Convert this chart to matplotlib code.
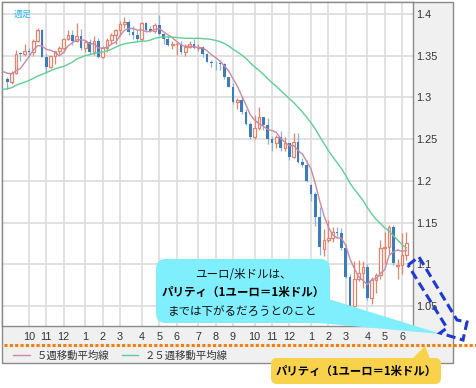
import matplotlib
matplotlib.use('Agg')
import matplotlib.pyplot as plt
import numpy as np
import pandas as pd
from matplotlib.patches import Rectangle, FancyBboxPatch, Polygon

# ---------------- data (weekly EUR/USD candles, Sep 2013 - Jun 2015) ----------------
opens = [1.3220, 1.3180, 1.3290, 1.3525, 1.3520, 1.3560, 1.3545, 1.3680, 1.3805, 1.3485,
         1.3365, 1.3495, 1.3555, 1.3590, 1.3705, 1.3745, 1.3675, 1.3740, 1.3590, 1.3665,
         1.3540, 1.3680, 1.3485, 1.3595, 1.3690, 1.3745, 1.3805, 1.3875, 1.3910, 1.3790,
         1.3750, 1.3705, 1.3890, 1.3815, 1.3800, 1.3870, 1.3760, 1.3695, 1.3630, 1.3635,
         1.3640, 1.3545, 1.3605, 1.3645, 1.3595, 1.3605, 1.3525, 1.3430, 1.3415, 1.3410,
         1.3400, 1.3240, 1.3130, 1.2950, 1.2965, 1.2830, 1.2685, 1.2525, 1.2630, 1.2760,
         1.2670, 1.2500, 1.2450, 1.2525, 1.2390, 1.2450, 1.2290, 1.2460, 1.2225, 1.2185,
         1.1950, 1.1840, 1.1565, 1.1180, 1.1290, 1.1315, 1.1385, 1.1380, 1.1195, 1.0845,
         1.0495, 1.0820, 1.0890, 1.0970, 1.0600, 1.0805, 1.0870, 1.1200, 1.1205, 1.1450,
         1.0975, 1.0990, 1.1110]
highs = [1.3240, 1.3315, 1.3570, 1.3545, 1.3645, 1.3590, 1.3705, 1.3832, 1.3815, 1.3525,
         1.3500, 1.3555, 1.3620, 1.3710, 1.3810, 1.3810, 1.3893, 1.3815, 1.3685, 1.3700,
         1.3740, 1.3710, 1.3620, 1.3715, 1.3775, 1.3825, 1.3915, 1.3967, 1.3925, 1.3855,
         1.3810, 1.3905, 1.3905, 1.3860, 1.3890, 1.3993, 1.3775, 1.3735, 1.3675, 1.3670,
         1.3675, 1.3645, 1.3680, 1.3700, 1.3640, 1.3620, 1.3535, 1.3445, 1.3435, 1.3445,
         1.3410, 1.3245, 1.3175, 1.2995, 1.3000, 1.2860, 1.2705, 1.2790, 1.2887, 1.2765,
         1.2750, 1.2535, 1.2545, 1.2600, 1.2530, 1.2455, 1.2570, 1.2570, 1.2270, 1.2250,
         1.1960, 1.1870, 1.1680, 1.1425, 1.1535, 1.1450, 1.1450, 1.1430, 1.1245, 1.0885,
         1.1043, 1.1050, 1.1035, 1.1000, 1.0850, 1.0895, 1.1290, 1.1390, 1.1467, 1.1465,
         1.1060, 1.1380, 1.1385]
lows = [1.3105, 1.3160, 1.3285, 1.3440, 1.3495, 1.3485, 1.3500, 1.3660, 1.3480, 1.3295,
        1.3355, 1.3400, 1.3520, 1.3545, 1.3690, 1.3625, 1.3660, 1.3570, 1.3540, 1.3520,
        1.3510, 1.3475, 1.3475, 1.3550, 1.3640, 1.3645, 1.3735, 1.3830, 1.3750, 1.3705,
        1.3670, 1.3675, 1.3790, 1.3780, 1.3775, 1.3750, 1.3645, 1.3615, 1.3585, 1.3503,
        1.3525, 1.3500, 1.3590, 1.3575, 1.3560, 1.3490, 1.3420, 1.3365, 1.3333, 1.3325,
        1.3225, 1.3120, 1.2920, 1.2860, 1.2800, 1.2670, 1.2500, 1.2500, 1.2615, 1.2615,
        1.2440, 1.2358, 1.2395, 1.2355, 1.2360, 1.2245, 1.2275, 1.2215, 1.2165, 1.1990,
        1.1755, 1.1460, 1.1115, 1.1098, 1.1270, 1.1270, 1.1315, 1.1175, 1.0840, 1.0490,
        1.0462, 1.0800, 1.0710, 1.0565, 1.0520, 1.0660, 1.0820, 1.1000, 1.1125, 1.0990,
        1.0820, 1.0885, 1.1050]
closes = [1.3180, 1.3290, 1.3525, 1.3520, 1.3560, 1.3545, 1.3680, 1.3805, 1.3485, 1.3365,
          1.3495, 1.3555, 1.3590, 1.3705, 1.3745, 1.3675, 1.3740, 1.3590, 1.3665, 1.3540,
          1.3680, 1.3485, 1.3595, 1.3690, 1.3745, 1.3805, 1.3875, 1.3910, 1.3790, 1.3750,
          1.3705, 1.3890, 1.3810, 1.3800, 1.3870, 1.3760, 1.3695, 1.3630, 1.3635, 1.3640,
          1.3545, 1.3605, 1.3645, 1.3595, 1.3605, 1.3525, 1.3430, 1.3415, 1.3410, 1.3400,
          1.3240, 1.3130, 1.2950, 1.2965, 1.2830, 1.2685, 1.2525, 1.2630, 1.2760, 1.2670,
          1.2500, 1.2450, 1.2525, 1.2390, 1.2450, 1.2290, 1.2460, 1.2225, 1.2185, 1.2000,
          1.1840, 1.1565, 1.1205, 1.1290, 1.1315, 1.1385, 1.1380, 1.1195, 1.0845, 1.0495,
          1.0820, 1.0890, 1.0970, 1.0600, 1.0805, 1.0870, 1.1200, 1.1205, 1.1450, 1.1015,
          1.0990, 1.1110, 1.1260]
# weekly closes before the first visible candle (feed the moving averages)
prior_closes = [1.3010, 1.2990, 1.2820, 1.2995, 1.3110, 1.3050, 1.3030, 1.3110, 1.2990, 1.2835,
                1.2930, 1.2995, 1.3220, 1.3345, 1.3120, 1.3010, 1.2830, 1.3065, 1.3145, 1.3275,
                1.3275, 1.3340, 1.3335, 1.3380, 1.3220]
# first week of each month (index into the candles) and its label
month_idx = [5, 9, 13, 18, 22, 26, 31, 35, 39, 44, 48, 52, 57, 61, 65, 70, 74, 78, 83, 87, 91]
month_labels = ['10', '11', '12', '1', '2', '3', '4', '5', '6', '7', '8', '9',
                '10', '11', '12', '1', '2', '3', '4', '5', '6']
ytick_vals = [1.05, 1.1, 1.15, 1.2, 1.25, 1.3, 1.35, 1.4]
ytick_labels = ['1.05', '1.1', '1.15', '1.2', '1.25', '1.3', '1.35', '1.4']
legend_labels = ['５週移動平均線', '２５週移動平均線']
period_label = '週足'
callout_lines = ['ユーロ/米ドルは、', 'パリティ（1ユーロ＝1米ドル）', 'までは下がるだろうとのこと']
parity_label = 'パリティ（1ユーロ＝1米ドル）'

# ---------------- figure ----------------
W, H = 476, 388
CJK = ['Noto Sans CJK JP', 'DejaVu Sans']
fig = plt.figure(figsize=(W / 100, H / 100), dpi=100)
fig.patch.set_facecolor('white')

bg = fig.add_axes([0, 0, 1, 1], zorder=0)
bg.set_xlim(0, W); bg.set_ylim(H, 0); bg.axis('off')
bg.add_patch(Rectangle((2, 2), 451, 361, fc='#f0f0f0', ec='#8a8a8a', lw=1.0))

ax = fig.add_axes([2 / W, 1 - 326 / H, 411 / W, 324 / H], zorder=1)
ax.set_facecolor('white')
ax.set_xlim(-1.22, 93.5)
ax.set_ylim(1.0259, 1.4144)
for s in ax.spines.values():
    s.set_color('#8a8a8a'); s.set_linewidth(1.0)

ax.set_xticks(month_idx)
ax.set_xticklabels(month_labels, family='Liberation Sans', fontsize=7.8, color='#333333')
ax.set_yticks(ytick_vals)
ax.set_yticklabels(ytick_labels, family='Liberation Sans', fontsize=7.8, color='#333333')
ax.yaxis.tick_right()
ax.tick_params(axis='x', length=0, pad=4.5)
ax.tick_params(axis='y', length=0, pad=2)
ax.grid(True, color='#dedede', lw=1.3)
ax.set_axisbelow(True)

o = np.array(opens); h = np.array(highs); l = np.array(lows); c = np.array(closes)
idx = np.arange(len(c))
up = c >= o
dn = ~up
up_col = '#e8826a'
dn_col = '#3b7cbd'
dn_wick = '#86b5e0'
body_w = 0.62
ax.vlines(idx[up], l[up], h[up], color=up_col, lw=0.9, zorder=3)
ax.vlines(idx[dn], l[dn], h[dn], color=dn_wick, lw=0.9, zorder=3)
hb = np.maximum(c[up] - o[up], 0.0008)
ax.bar(idx[up], hb, bottom=o[up], width=body_w, facecolor='white', edgecolor=up_col, lw=0.9, zorder=4)
ax.bar(idx[dn], np.maximum(o[dn] - c[dn], 0.0008), bottom=c[dn], width=body_w,
       facecolor=dn_col, edgecolor='none', zorder=4)

allc = pd.Series(prior_closes + closes)
ma5 = allc.rolling(5).mean().to_numpy()
ma25 = allc.rolling(25).mean().to_numpy()
n0 = len(prior_closes)
xi = np.arange(-1, len(closes))
ma5_col = '#c98aa8'
ma25_col = '#5fcf93'
ax.plot(xi, ma5[n0 - 1:], color=ma5_col, lw=1.0, zorder=5)
ax.plot(xi, ma25[n0 - 1:], color=ma25_col, lw=1.0, zorder=5)

ax.text(0.028, 0.975, period_label, transform=ax.transAxes, family=CJK, fontsize=6.5,
        color='#33b8ee', va='top', ha='left', zorder=6)

# legend row and orange dotted line (pixel coordinates)
bg.plot([13, 30], [355, 355], color=ma5_col, lw=1.0)
bg.text(37, 355.5, legend_labels[0], family=CJK, fontsize=7.5, color='#333333', va='center', ha='left')
bg.plot([122, 138], [355, 355], color=ma25_col, lw=1.0)
bg.text(145, 355.5, legend_labels[1], family=CJK, fontsize=7.5, color='#333333', va='center', ha='left')

top = fig.add_axes([0, 0, 1, 1], zorder=10)
top.set_xlim(0, W); top.set_ylim(H, 0); top.axis('off')
top.patch.set_alpha(0)
top.plot([4, 476], [345, 345], color='#ff7a00', lw=2.2, ls=(0, (1, 0.75)), dash_capstyle='butt')

# cyan callout
cy = '#80effd'
top.add_patch(FancyBboxPatch((156, 259), 174, 64, boxstyle='round,pad=0,rounding_size=10',
                             fc=cy, ec='none'))
top.add_patch(Polygon([(322, 297), (441, 334), (318, 323)], closed=True, fc=cy, ec='none'))
top.text(243, 274, callout_lines[0], family=CJK, fontsize=8.3, color='#111111', ha='center', va='center')
top.text(243, 292.5, callout_lines[1], family=CJK, fontsize=8.3, weight='bold', color='#000000',
         ha='center', va='center')
top.text(243, 311, callout_lines[2], family=CJK, fontsize=8.3, color='#111111', ha='center', va='center')

# dashed blue arrow
arrow_pts = [(408, 265), (419, 257), (457, 320), (467, 322), (463, 340), (440, 333), (447, 328)]
top.add_patch(Polygon(arrow_pts, closed=True, fill=False, ec='#1f38d8', lw=2.2,
                      ls=(0, (3, 1.5)), joinstyle='miter'))

# yellow label
yl = '#f8d24a'
top.add_patch(FancyBboxPatch((271, 358), 170, 26, boxstyle='round,pad=0,rounding_size=6', fc=yl, ec='none'))
top.add_patch(Polygon([(412, 359), (425, 346), (430, 359)], closed=True, fc=yl, ec='none'))
top.text(356, 371.5, parity_label, family=CJK, fontsize=8.2, weight='bold', color='#000000',
         ha='center', va='center')

fig.savefig('out.png', dpi=100)
